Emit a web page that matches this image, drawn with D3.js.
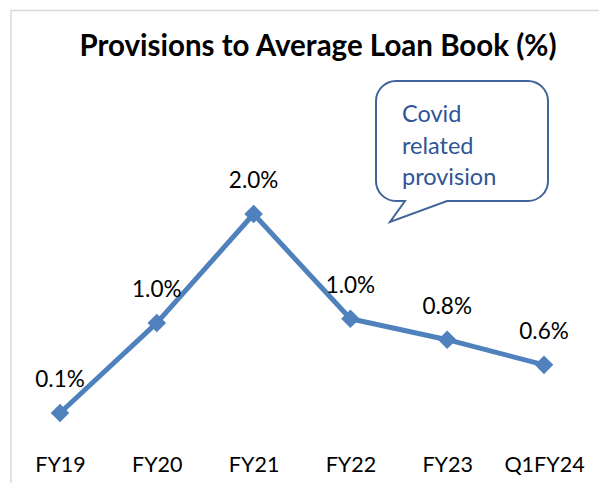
<!DOCTYPE html>
<html>
<head>
<meta charset="utf-8">
<script src="https://cdn.jsdelivr.net/npm/d3@7"></script>
<style>
  html, body { margin: 0; padding: 0; background: #fff; }
  svg { display: block; }
  text { font-family: Lato, "Open Sans", sans-serif; }
</style>
</head>
<body>
<svg id="chart" width="599" height="483"></svg>
<script>
// Provision ratio by period (% of average loan book)
const categories = ["FY19", "FY20", "FY21", "FY22", "FY23", "Q1FY24"];
const provisionPct = [0.1, 0.96, 2.0, 1.0, 0.8, 0.56];
const titleText = "Provisions to Average Loan Book (%)";
const calloutLines = ["Covid", "related", "provision"];

const svg = d3.select("#chart");

// light frame around the chart area
svg.append("path")
  .attr("d", "M11,483 L11,10.5 L599,10.5")
  .attr("fill", "none")
  .attr("stroke", "#d9d9d9")
  .attr("stroke-width", 1.5);

// title
svg.append("text")
  .attr("x", 318)
  .attr("y", 56)
  .attr("text-anchor", "middle")
  .attr("font-weight", "bold")
  .attr("font-size", 29.5)
  .attr("fill", "#000")
  .text(titleText);

const x = d3.scalePoint().domain(categories).range([60, 544]);
const y = d3.scaleLinear().domain([0, 2]).range([423.5, 214]);

// category axis labels (no axis line or ticks)
const xAxis = d3.axisBottom(x).tickSize(0).tickPadding(0);
const gx = svg.append("g").attr("transform", "translate(0,455)").call(xAxis);
gx.select(".domain").remove();
gx.selectAll("text")
  .attr("font-size", 21.5)
  .attr("fill", "#000")
  .attr("font-family", "Lato, 'Open Sans', sans-serif")
  .attr("dy", "0.8em");

const data = categories.map((c, i) => ({ c, v: provisionPct[i] }));

// series line
svg.append("path")
  .datum(data)
  .attr("fill", "none")
  .attr("stroke", "#4f81bd")
  .attr("stroke-width", 5)
  .attr("stroke-linejoin", "round")
  .attr("d", d3.line().x(d => x(d.c)).y(d => y(d.v)));

// diamond markers
svg.selectAll(".marker")
  .data(data)
  .enter().append("path")
  .attr("class", "marker")
  .attr("transform", d => `translate(${x(d.c)},${y(d.v)})`)
  .attr("d", d3.symbol().type(d3.symbolDiamond2).size(220))
  .attr("fill", "#4f81bd");

// value labels
const fmt = d3.format(".1f");
svg.selectAll(".vlabel")
  .data(data)
  .enter().append("text")
  .attr("class", "vlabel")
  .attr("x", d => x(d.c))
  .attr("y", d => y(d.v) - 26)
  .attr("text-anchor", "middle")
  .attr("font-size", 22.5)
  .attr("fill", "#000")
  .text(d => fmt(d.v) + "%");

// speech-bubble callout
const bx0 = 376, bx1 = 548, by0 = 81, by1 = 201, r = 20;
const bubble = d3.path();
bubble.moveTo(bx0 + r, by0);
bubble.lineTo(bx1 - r, by0);
bubble.arcTo(bx1, by0, bx1, by0 + r, r);
bubble.lineTo(bx1, by1 - r);
bubble.arcTo(bx1, by1, bx1 - r, by1, r);
bubble.lineTo(447, by1);
bubble.lineTo(390, 222);
bubble.lineTo(405, by1);
bubble.lineTo(bx0 + r, by1);
bubble.arcTo(bx0, by1, bx0, by1 - r, r);
bubble.lineTo(bx0, by0 + r);
bubble.arcTo(bx0, by0, bx0 + r, by0, r);
bubble.closePath();
svg.append("path")
  .attr("d", bubble.toString())
  .attr("fill", "#fff")
  .attr("stroke", "#41659a")
  .attr("stroke-width", 2);

svg.append("g")
  .selectAll("text")
  .data(calloutLines)
  .enter().append("text")
  .attr("x", 402)
  .attr("y", (d, i) => 122 + i * 31.5)
  .attr("font-size", 23.5)
  .attr("fill", "#2f5597")
  .text(d => d);
</script>
</body>
</html>
